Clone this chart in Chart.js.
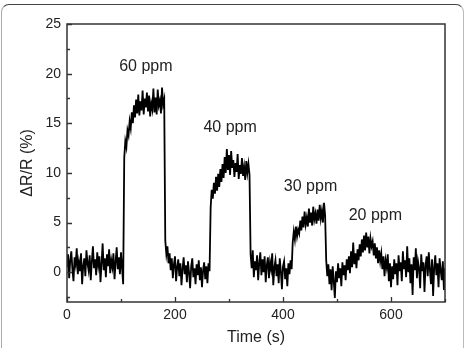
<!DOCTYPE html>
<html>
<head>
<meta charset="utf-8">
<script src="https://cdn.jsdelivr.net/npm/chart.js@4"></script>
<style>
  html, body { margin: 0; padding: 0; background: #fff; overflow: hidden; }
  #wrap { position: relative; width: 465px; height: 348px; }
  #frame {
    position: absolute; left: 1px; top: 4px; width: 463px; height: 400px;
    border-top: 1.5px solid #444; border-left: 1.5px solid #aaa; border-right: 1.5px solid #bbb;
    border-radius: 8px 8px 0 0; box-sizing: border-box;
  }
  canvas { position: absolute; left: 0; top: 0; }
</style>
</head>
<body>
<div id="wrap">
  <div id="frame"></div>
  <canvas id="sensorChart" width="465" height="348"></canvas>
</div>
<script>
// ── Data (one sample every 2 s) ───────────────────────────────────────────────
const sampleStep = 2;

const baseline0 = [0.5, 1.8, -0.6, 1.2, 2.1, 0.3, -0.9, 1.5, 0.8, 2.4, -0.2, 1.0, 0.1, 1.9, -1.2, 0.6, 1.4, -0.4,
  2.2, 0.9, 0.2, 1.7, -0.8, 1.1, 2.6, 0.4, 1.3, -0.3, 2.0, 0.7, 1.6, -1.0, 0.9, 2.9, 0.2, 1.4, -0.5, 1.8, 0.6,
  2.3, -0.1, 1.2, 0.5, 1.9, -0.7, 1.0, 2.5, 0.3, 1.5, -0.2, 2.0, 0.4, -1.2];
const ppm60 = [11.5, 13.2, 12.6, 14.3, 13.8, 15.2, 14.5, 16.1, 15.0, 16.8, 15.6, 17.4, 16.0, 17.9, 15.8, 17.2,
  16.3, 18.3, 15.9, 17.5, 16.6, 18.1, 16.2, 17.8, 15.7, 17.0, 16.4, 18.5, 16.1, 17.6, 15.9, 18.4, 16.8, 17.3,
  16.0, 18.6, 16.9, 17.4];
const recovery1 = [3.2, 1.8, 2.6, 0.9, 1.9, 0.2, 1.4, -0.6, 0.8, 1.6, -0.9, 0.5, 1.3, -0.4, 0.9, -1.3, 0.3, 1.5,
  -0.2, 0.7, -1.0, 1.1, 0.0, -1.6, 0.6, 1.4, -0.5, 0.4, -1.2, 0.8, -0.3, 1.2, -0.8, 0.5, -1.5, 0.2, 1.0, -0.7,
  0.6, -1.1, 0.9, 0.1];
const ppm40 = [6.5, 8.3, 7.4, 9.0, 7.9, 9.6, 8.2, 9.9, 8.6, 10.4, 9.1, 10.9, 9.5, 11.6, 10.0, 12.4, 10.3, 11.8,
  9.8, 12.2, 10.5, 11.3, 9.6, 11.0, 10.1, 11.9, 9.4, 10.8, 9.9, 11.5, 9.7, 10.6, 9.3, 11.2, 10.0, 10.9, 9.8];
const recovery2 = [1.8, 0.4, 2.2, -0.5, 1.1, 0.2, 1.7, -0.8, 0.9, 2.0, -0.3, 1.3, 0.0, 1.6, -1.0, 0.7, 1.5, -0.6,
  1.0, 0.3, 1.9, -1.3, 0.5, 1.2, -0.4, 0.8, -1.1, 1.4, 0.1, -1.7, 0.6, 1.1, -0.7, 0.4, -1.4, 0.9, -0.2, 1.2, 0.3];
const ppm30 = [3.0, 4.1, 3.3, 4.6, 3.6, 4.3, 3.9, 5.2, 4.2, 5.6, 4.5, 6.1, 4.8, 5.5, 4.6, 6.4, 5.0, 6.0, 4.7, 6.6,
  5.3, 5.9, 4.9, 6.3, 5.2, 6.8, 5.4, 6.2, 5.0, 7.0, 5.7];
const recovery3 = [1.2, -0.4, 0.8, -1.2, 0.3, -1.8, 0.6, -0.9, -2.6, 0.1, -1.0, 0.9, -0.6, 0.4, -1.4, 1.0, -0.3,
  0.7, -0.8, 1.3, 0.2, 1.6, -0.1, 2.1, 0.5];
const ppm20 = [3.0, 0.8, 1.9, 0.4, 2.3, 1.2, 2.8, 1.6, 3.3, 2.0, 3.7, 2.2, 4.0, 2.5, 3.6, 1.9, 3.4, 2.6, 3.1, 1.7,
  2.9, 1.4, 2.5, 0.9, 2.2, 1.1, 1.9, 0.3, 1.6, -0.4, 1.2, 0.5, 1.8, -0.9, 0.9, -1.5];
const tail = [0.6, -0.7, 1.3, -0.2, 0.9, -1.3, 1.7, 0.1, 1.0, -0.9, 2.1, 0.3, 1.2, -0.5, 2.6, 0.0, 1.4, -1.1, 0.8,
  -2.3, 1.5, 0.2, 2.4, -0.6, 1.1, 0.4, -1.6, 1.8, 0.1, 1.0, -2.0, 0.7, 1.6, -0.4, 2.0, 0.3, -1.2, 1.3, -2.4, 0.5,
  1.7, -0.3, 0.9, -1.5, 1.4, 0.2, -0.8, 1.1, -1.8, 0.4];

const xMajorTicks = [0, 200, 400, 600];
const xMinorTicks = [100, 300, 500, 700];
const yMajorTicks = [0, 5, 10, 15, 20, 25];
const yMinorTicks = [-2.5, 2.5, 7.5, 12.5, 17.5, 22.5];

const doseLabels = ['60 ppm', '40 ppm', '30 ppm', '20 ppm'];
const doseLabelX = [146, 302, 451, 571];
const doseLabelY = [20.3, 14.1, 8.2, 5.3];

// ── Helpers ──────────────────────────────────────────────────────────────────
const response = [].concat(baseline0, ppm60, recovery1, ppm40, recovery2, ppm30, recovery3, ppm20, tail);
const points = response.map((v, i) => ({ x: i * sampleStep, y: v }));

const INK = '#333';
const FONT = '"Liberation Sans", Arial, sans-serif';

// frame box, inward ticks and dose labels
const framePlugin = {
  id: 'frame',
  afterDatasetsDraw(chart) {
    const { ctx, chartArea: a, scales } = chart;
    const x = scales.x, y = scales.y;
    ctx.save();
    ctx.strokeStyle = INK;
    ctx.lineWidth = 1.3;

    ctx.beginPath();
    for (const v of xMajorTicks) {
      const px = Math.round(x.getPixelForValue(v)) + 0.5;
      ctx.moveTo(px, a.bottom); ctx.lineTo(px, a.bottom - 5);
    }
    for (const v of xMinorTicks) {
      const px = Math.round(x.getPixelForValue(v)) + 0.5;
      ctx.moveTo(px, a.bottom); ctx.lineTo(px, a.bottom - 3);
    }
    for (const v of yMajorTicks) {
      const py = Math.round(y.getPixelForValue(v)) + 0.5;
      ctx.moveTo(a.left, py); ctx.lineTo(a.left + 5, py);
    }
    for (const v of yMinorTicks) {
      const py = Math.round(y.getPixelForValue(v)) + 0.5;
      ctx.moveTo(a.left, py); ctx.lineTo(a.left + 3, py);
    }
    ctx.stroke();

    ctx.lineWidth = 1.5;
    ctx.strokeRect(a.left, a.top, a.right - a.left, a.bottom - a.top);

    ctx.fillStyle = '#222';
    ctx.font = '16px ' + FONT;
    ctx.textAlign = 'center';
    ctx.textBaseline = 'alphabetic';
    doseLabels.forEach((t, i) => {
      ctx.fillText(t, x.getPixelForValue(doseLabelX[i]), y.getPixelForValue(doseLabelY[i]));
    });
    ctx.restore();
  }
};

new Chart(document.getElementById('sensorChart').getContext('2d'), {
  type: 'line',
  data: {
    datasets: [{
      data: points,
      borderColor: '#000',
      borderWidth: 1.8,
      pointRadius: 0,
      tension: 0,
      fill: false
    }]
  },
  options: {
    responsive: false,
    animation: false,
    events: [],
    layout: { padding: { left: 0, top: 24, right: 20, bottom: 0 } },
    plugins: { legend: { display: false }, tooltip: { enabled: false } },
    scales: {
      x: {
        type: 'linear',
        min: 0,
        max: 700,
        afterBuildTicks: s => { s.ticks = xMajorTicks.map(v => ({ value: v })); },
        afterFit: s => { s.height = 46; },
        grid: { display: false, drawTicks: false },
        border: { display: false },
        ticks: { autoSkip: false, maxRotation: 0, padding: 5, color: '#222', font: { family: FONT, size: 14 } },
        title: { display: true, text: 'Time (s)', color: '#222', padding: { top: 0, bottom: 1 },
          font: { family: FONT, size: 16 } }
      },
      y: {
        type: 'linear',
        min: -3,
        max: 25,
        afterBuildTicks: s => { s.ticks = yMajorTicks.map(v => ({ value: v })); },
        afterFit: s => { s.width = 67; },
        grid: { display: false, drawTicks: false },
        border: { display: false },
        ticks: { autoSkip: false, padding: 6, color: '#222', font: { family: FONT, size: 14 } },
        title: { display: true, text: 'ΔR/R (%)', color: '#222', padding: { top: 18, bottom: 0 },
          font: { family: FONT, size: 16 } }
      }
    }
  },
  plugins: [framePlugin]
});
</script>
</body>
</html>
